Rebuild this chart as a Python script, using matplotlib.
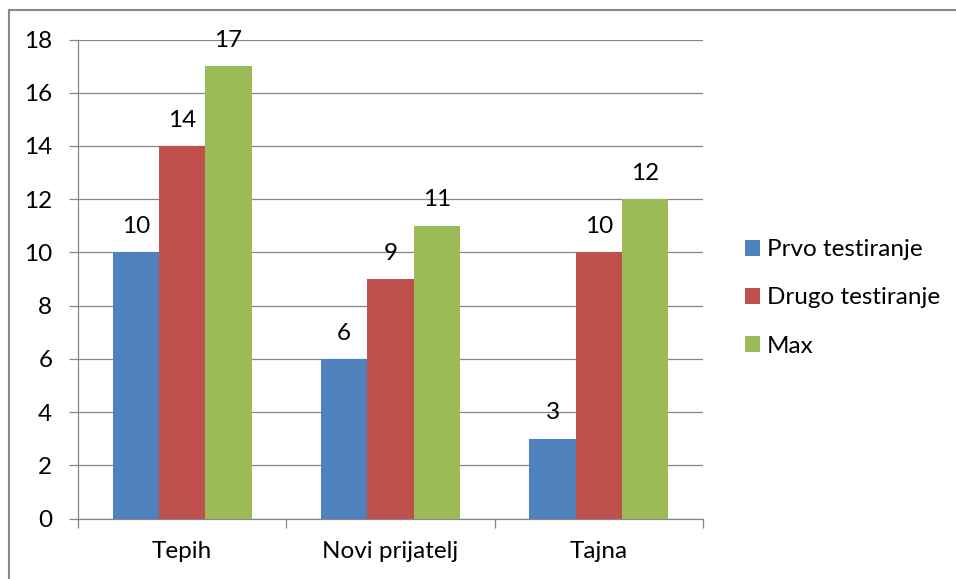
import matplotlib
matplotlib.use("Agg")
import matplotlib.pyplot as plt
from matplotlib.lines import Line2D
import numpy as np

categories = ["Tepih", "Novi prijatelj", "Tajna"]
series_names = ["Prvo testiranje", "Drugo testiranje", "Max"]
prvo = [10, 6, 3]
drugo = [14, 9, 10]
maks = [17, 11, 12]
y_ticks = [0, 2, 4, 6, 8, 10, 12, 14, 16, 18]

COLORS = ["#4F81BD", "#C0504D", "#9BBB59"]
GRID = "#868686"
FONT = "Lato"
FS = 17.5

plt.rcParams["font.family"] = [FONT, "DejaVu Sans"]

W, H = 956, 579
fig = plt.figure(figsize=(W / 100, H / 100), dpi=100)
ax = fig.add_axes([78 / W, 1 - 518.5 / H, (703 - 78) / W, (518.5 - 39.5) / H])

x = np.arange(len(categories))
bw = 1 / 4.5
for i, (vals, name) in enumerate(zip([prvo, drugo, maks], series_names)):
    bars = ax.bar(x + (i - 1) * bw, vals, bw, color=COLORS[i], label=name, zorder=3)
    for b, v in zip(bars, vals):
        ax.annotate(str(v), (b.get_x() + b.get_width() / 2, v), xytext=(0, 11),
                    textcoords="offset points", ha="center", va="bottom",
                    fontsize=FS, color="black")

ax.set_xlim(-0.5, len(categories) - 0.5)
ax.set_ylim(0, 18)
ax.set_yticks(y_ticks)
ax.grid(axis="y", color=GRID, lw=0.9, zorder=0)

# category boundaries get tick marks, names sit in between
ax.set_xticks(np.arange(-0.5, len(categories), 1.0))
ax.set_xticklabels([])
ax.set_xticks(x, minor=True)
ax.set_xticklabels(categories, minor=True)
ax.tick_params(axis="x", which="major", direction="out", length=6.5, width=0.9, color=GRID)
ax.tick_params(axis="x", which="minor", length=0, pad=16, labelsize=FS)
ax.tick_params(axis="y", direction="out", length=6.5, width=0.9, color=GRID, pad=12, labelsize=FS)

for s in ["top", "right"]:
    ax.spines[s].set_visible(False)
for s in ["left", "bottom"]:
    ax.spines[s].set_color(GRID)
    ax.spines[s].set_linewidth(0.9)

ax.legend(loc="center left", bbox_to_anchor=(745 / W, 1 - 298 / H),
          bbox_transform=fig.transFigure, frameon=False, fontsize=FS,
          handlelength=0.62, handleheight=0.62, handletextpad=0.29,
          labelspacing=1.12, borderpad=0, borderaxespad=0)

# outer chart border (only top and left are in the crop)
fig.add_artist(Line2D([9 / W, 9 / W], [0, 1 - 10 / H], transform=fig.transFigure,
                      color="#898989", lw=1.5))
fig.add_artist(Line2D([9 / W, 1], [1 - 10 / H, 1 - 10 / H], transform=fig.transFigure,
                      color="#898989", lw=1.5))

fig.savefig("out.png", dpi=100)
